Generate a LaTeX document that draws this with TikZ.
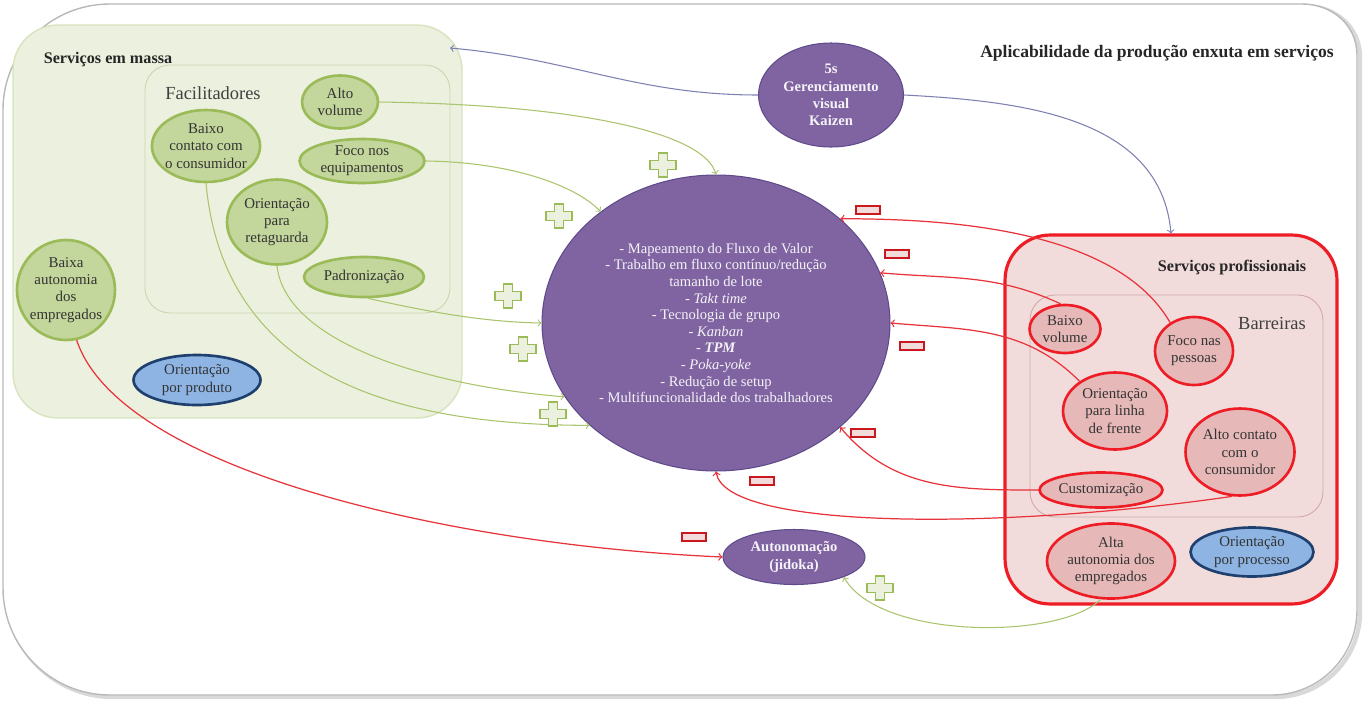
\documentclass[tikz,border=0pt]{standalone}
\usepackage{fontspec}
\setmainfont{Liberation Serif}
\usetikzlibrary{shapes.geometric}
\definecolor{massafundo}{HTML}{EBF1DE}
\definecolor{massaborda}{HTML}{D7E4BD}
\definecolor{facilborda}{HTML}{C9D6B2}
\definecolor{verdeel}{HTML}{C3D69B}
\definecolor{verdeborda}{HTML}{9BBB59}
\definecolor{proffundo}{HTML}{F2DCDB}
\definecolor{barrborda}{HTML}{D0A8A8}
\definecolor{vermel}{HTML}{E6B9B8}
\definecolor{vermborda}{HTML}{EE1C25}
\definecolor{azulel}{HTML}{8DB4E2}
\definecolor{azulborda}{HTML}{1F3F6F}
\definecolor{roxo}{HTML}{8064A2}
\definecolor{roxoborda}{HTML}{5F4B8B}
\definecolor{setaazul}{HTML}{7F80B2}
\definecolor{setaverde}{HTML}{A9C46C}
\definecolor{setaverm}{HTML}{E8333B}
\tikzset{
  elips/.style={ellipse, inner sep=-1.5pt, align=center, font=\fontsize{8.5}{9.8}\selectfont},
  elverde/.style={elips, draw=verdeborda, line width=1.5pt, fill=verdeel, text=black!80},
  elverm/.style={elips, draw=vermborda, line width=1.5pt, fill=vermel, text=black!80},
  elazul/.style={elips, draw=azulborda, line width=1.5pt, fill=azulel, text=black!80},
  elroxo/.style={elips, draw=roxoborda, line width=0.6pt, fill=roxo, text=white!92!roxo},
  caixa/.style={rectangle, inner sep=0pt},
  titulo/.style={font=\fontsize{9.2}{11}\selectfont\bfseries, text=black!85},
  rotulo/.style={font=\fontsize{10.5}{12}\selectfont, text=black!75},
  sverde/.style={->, setaverde, line width=0.6pt},
  sverm/.style={->, setaverm, line width=0.7pt},
  sazul/.style={->, setaazul, line width=0.6pt},
}
\newcommand{\sinalmais}[2]{\draw[verdeborda, line width=0.9pt, fill=massafundo, shift={(#1,#2)}]
  (-4.5,-12) -- (4.5,-12) -- (4.5,-4.5) -- (13,-4.5) -- (13,4.5) -- (4.5,4.5) -- (4.5,12)
  -- (-4.5,12) -- (-4.5,4.5) -- (-13,4.5) -- (-13,-4.5) -- (-4.5,-4.5) -- cycle;}
\newcommand{\sinalmenos}[2]{\draw[vermborda!85!black, line width=1.4pt, fill=proffundo, shift={(#1,#2)}]
  (-12,-4) rectangle (12,4);}
\newcommand{\moldura}{(3,110) .. controls (3,51) and (51,4) .. (110,4) -- (1302,4)
  .. controls (1332,4) and (1357,25) .. (1357,55) -- (1357,610)
  .. controls (1357,657) and (1319,695) .. (1272,695) -- (110,695)
  .. controls (51,695) and (3,647) .. (3,588) -- cycle}
\begin{document}
\begin{tikzpicture}[x=0.02cm,y=-0.02cm]
\useasboundingbox (0,0) rectangle (1365,700);
\draw[gray!30, line width=2.5pt, shift={(3,2)}] \moldura;
\draw[gray!55, line width=0.8pt, fill=white] \moldura;

\node[caixa, rounded corners=0.9cm, fill=massafundo, draw=massaborda, line width=0.8pt, minimum width=8.98cm, minimum height=7.86cm] (massa) at (237.5,221.5) {};
\node[caixa, rounded corners=0.5cm, fill=massafundo, draw=facilborda, line width=0.5pt, minimum width=6.1cm, minimum height=4.96cm] (facil) at (297.5,189) {};
\node[caixa, rounded corners=0.9cm, fill=proffundo, draw=vermborda, line width=1.8pt, minimum width=6.64cm, minimum height=7.38cm] (prof) at (1171,419.5) {};
\node[caixa, rounded corners=0.5cm, fill=proffundo, draw=barrborda, line width=0.5pt, minimum width=5.86cm, minimum height=4.44cm] (barr) at (1176.5,406) {};
\coordinate (massaseta) at (450,48);

\node[titulo] (tmassa) at (108,60) {Serviços em massa};
\node[rotulo] (tfacil) at (213,93) {Facilitadores};
\node[titulo] (tprof) at (1232,268) {Serviços profissionais};
\node[rotulo] (tbarr) at (1272,323) {Barreiras};
\node[titulo, font=\fontsize{10}{12}\selectfont\bfseries] (tapl) at (1157,53) {Aplicabilidade da produção enxuta em serviços};

\node[elverde, minimum width=1.52cm, minimum height=1.06cm] (altovol) at (340,102) {Alto\\volume};
\node[elverde, minimum width=2.14cm, minimum height=1.44cm] (baixocon) at (206,146) {Baixo\\contato com\\o consumidor};
\node[elverde, minimum width=2.5cm, minimum height=0.88cm] (focoeq) at (362,161) {Foco nos\\equipamentos};
\node[elverde, minimum width=2.0cm, minimum height=1.7cm] (retag) at (277,222) {Orientação\\para\\retaguarda};
\node[elverde, minimum width=2.4cm, minimum height=0.8cm] (padron) at (364,277) {Padronização};
\node[elverde, minimum width=1.96cm, minimum height=2.0cm] (baixaaut) at (66,290) {Baixa\\autonomia\\dos\\empregados};
\node[elazul, minimum width=2.54cm, minimum height=1.0cm] (orprod) at (197,380) {Orientação\\por produto};

\node[elroxo, font=\fontsize{8.3}{9.8}\selectfont\bfseries, minimum width=2.9cm, minimum height=2.08cm] (cinco) at (831,95) {5s\\Gerenciamento\\visual\\Kaizen};
\node[elroxo, font=\fontsize{8.3}{9.45}\selectfont, minimum width=6.96cm, minimum height=5.92cm] (centro) at (716,323) {- Mapeamento do Fluxo de Valor\\- Trabalho em fluxo contínuo/redução\\tamanho de lote\\- \textit{Takt time}\\- Tecnologia de grupo\\- \textit{Kanban}\\- \textbf{\textit{TPM}}\\- \textit{Poka-yoke}\\- Redução de setup\\- Multifuncionalidade dos trabalhadores};
\node[elroxo, font=\fontsize{8.3}{9.8}\selectfont\bfseries, minimum width=2.84cm, minimum height=1.1cm] (autonom) at (794,557) {Autonomação\\(jidoka)};

\node[elverm, minimum width=1.42cm, minimum height=0.96cm] (baixovol) at (1065,329) {Baixo\\volume};
\node[elverm, minimum width=1.56cm, minimum height=1.36cm] (focopes) at (1194,351) {Foco nas\\pessoas};
\node[elverm, minimum width=2.08cm, minimum height=1.54cm] (orientlf) at (1115,411) {Orientação\\para linha\\de frente};
\node[elverm, minimum width=2.18cm, minimum height=1.74cm] (altocon) at (1240,452) {Alto contato\\com o\\consumidor};
\node[elverm, minimum width=2.46cm, minimum height=0.7cm] (custom) at (1101,490) {Customização};
\node[elverm, minimum width=2.56cm, minimum height=1.5cm] (altaaut) at (1111,561) {Alta\\autonomia dos\\empregados};
\node[elazul, minimum width=2.46cm, minimum height=0.98cm] (orproc) at (1252,552) {Orientação\\por processo};

\draw[sazul] (cinco.west) to[out=180,in=-5] (massaseta);
\draw[sazul] (cinco.east) to[out=-3,in=95] (prof.north);

\draw[sverde] (altovol.east) .. controls (590,105) and (705,135) .. (centro.north);
\draw[sverde] (focoeq.east) .. controls (510,162) and (575,185) .. (centro.136);
\draw[sverde] (padron.-80) .. controls (420,310) and (480,322) .. (centro.west);
\draw[sverde] (retag.south) .. controls (285,340) and (420,385) .. (centro.206);
\draw[sverde] (baixocon.south) .. controls (225,390) and (420,425) .. (centro.219);
\draw[sverde] (altaaut.-105) .. controls (1060,640) and (880,640) .. (autonom.-22);

\draw[sverm] (focopes.130) to[out=120,in=0,looseness=0.8] (centro.40);
\draw[sverm] (baixovol.100) to[out=155,in=-5] (centro.17);
\draw[sverm] (orientlf.140) to[out=135,in=-5] (centro.east);
\draw[sverm] (custom.west) to[out=180,in=-50] (centro.-40);
\draw[sverm] (altocon.-100) .. controls (1000,530) and (725,530) .. (centro.south);
\draw[sverm] (baixaaut.-78) .. controls (120,470) and (450,545) .. (autonom.west);

\foreach \x/\y in {663/165, 559/216, 508/296, 523/349, 553/414, 880/588}
  \sinalmais{\x}{\y};
\foreach \x/\y in {868/210, 897/254, 912/346, 863/433, 762/481, 694/537}
  \sinalmenos{\x}{\y};
\end{tikzpicture}
\end{document}
